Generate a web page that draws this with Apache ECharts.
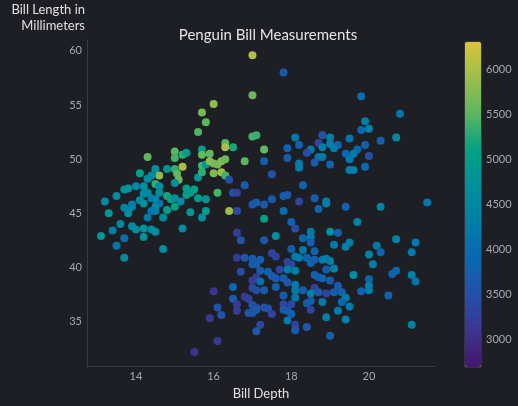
<!DOCTYPE html>
<html>
<head>
<meta charset="utf-8">
<script src="https://cdn.jsdelivr.net/npm/echarts@6/dist/echarts.min.js"></script>
<style>
  html, body { margin: 0; padding: 0; background: #1e1f24; }
  #chart { width: 518px; height: 406px; }
</style>
</head>
<body>
<div id="chart"></div>
<script>
// bill depth (mm), bill length (mm), body mass (g)
const billDepth = [
  17.0, 17.0, 16.0, 15.7, 15.8, 15.6, 17.0, 17.1, 16.3, 16.3, 16.5, 15.7, 17.3,
  14.3, 15.0, 15.0, 14.8, 14.5, 14.1, 14.6, 15.0, 15.06, 15.1, 14.4, 14.3, 14.5, 14.6,
  14.2, 14.0, 13.8, 13.7, 15.0, 14.6, 14.2, 14.3, 13.5, 13.2, 14.1, 14.2, 14.4, 14.5,
  14.8, 14.9, 15.0, 14.6, 13.9, 13.9, 13.7, 13.8, 14.5, 14.5, 14.4, 14.8, 15.0, 13.8,
  13.3, 14.3, 14.7, 13.6, 13.9, 14.0, 14.2, 14.4, 14.5, 13.4, 13.1, 14.2, 13.7, 13.5,
  14.7, 13.7,
  15.2, 15.3, 15.2, 15.7, 15.9, 15.7, 15.8, 15.9, 16.0, 16.1, 16.2, 16.3, 16.0, 16.2,
  16.3, 15.6, 15.7, 16.4, 16.8, 17.3, 16.8, 16.5, 16.6, 16.1, 15.3, 15.3, 15.4, 15.5,
  15.6, 15.8, 15.15, 15.8, 15.4, 16.4, 16.6, 15.7, 15.2, 17.3, 17.0, 17.1, 17.3, 16.6,
  16.7, 17.3,
  17.8, 19.8, 18.1, 18.8, 19.0, 19.5, 18.2, 18.7, 19.0, 19.2, 17.9, 18.5, 18.8, 19.1,
  19.7, 20.8, 19.9, 20.0, 19.8, 20.7, 20.3, 19.9,
  18.4, 18.7, 18.8, 19.4, 19.6, 17.9, 18.2, 18.2, 18.6, 19.0, 19.5, 19.5, 19.6, 17.5,
  18.3, 17.8, 17.9, 17.5, 18.2, 18.6, 18.9, 18.9, 18.7, 19.4, 17.8, 19.7, 18.0, 18.1,
  17.6, 18.5, 18.5, 19.0, 19.2, 18.3, 18.5, 19.1, 19.4, 19.5, 18.0, 18.3, 18.6, 17.5,
  20.0, 19.9, 20.3, 21.5, 20.7, 21.2, 20.2, 21.1, 20.3, 20.0,
  16.6, 16.8, 17.0, 17.2, 17.0, 17.1, 16.7, 17.2, 17.4, 17.0, 17.1, 17.2, 16.5, 16.0,
  17.0, 17.1, 17.3, 16.8, 16.9, 16.5, 16.6, 17.0, 17.1, 17.3, 17.4, 16.1, 16.6, 16.9,
  17.0, 17.1, 16.2, 15.9, 17.2, 17.1, 16.1, 15.5,
  17.6, 18.1, 18.2, 18.4, 18.5, 18.6, 18.8, 18.9, 19.0, 17.9, 18.0, 17.9, 18.1, 17.7,
  17.5, 17.6, 17.8, 17.9, 18.6, 18.7, 18.8, 18.9, 19.1, 19.6, 19.0, 17.6, 18.1, 18.1,
  18.3, 18.6, 18.7, 18.5, 18.9, 19.1, 19.2, 19.3, 19.4, 17.8, 18.1, 18.4, 18.5, 18.8,
  19.3, 17.8, 18.0, 19.5, 17.8, 17.9, 18.0, 18.5, 17.5, 19.2, 18.9, 19.4, 17.9, 18.1,
  18.4, 18.1, 19.0,
  20.1, 20.6, 20.7, 21.1, 21.2, 20.0, 20.0, 20.0, 19.8, 20.5, 21.1
];
const billLength = [
  59.6, 55.9, 55.1, 54.3, 53.4, 52.5, 52.1, 52.2, 51.5, 51.1, 51.1, 50.9, 50.9,
  50.2, 50.7, 50.1, 49.1, 49.1, 48.7, 48.5, 49.1, 48.65, 48.1, 48.5, 48.2, 47.7, 47.5,
  47.5, 47.5, 47.3, 47.2, 47.8, 46.9, 46.8, 46.9, 46.6, 46.1, 46.2, 45.9, 46.4, 46.3,
  46.6, 46.3, 46.4, 45.9, 45.8, 45.6, 45.5, 45.3, 45.6, 45.2, 45.2, 45.3, 45.6, 45.0,
  45.0, 44.6, 44.6, 44.0, 43.8, 43.5, 43.6, 43.5, 43.3, 43.4, 42.9, 42.8, 42.7, 42.0,
  41.7, 40.9,
  50.4, 50.6, 49.3, 50.4, 50.5, 49.4, 49.5, 49.8, 49.6, 49.5, 49.8, 50.0, 48.7, 48.8,
  48.5, 48.3, 48.8, 48.1, 49.8, 49.8, 47.6, 46.9, 46.9, 46.9, 47.3, 46.7, 46.9, 47.2,
  46.4, 46.3, 46.1, 45.2, 45.1, 45.2, 45.2, 44.6, 43.6, 44.5, 45.8, 46.0, 45.8, 43.2,
  42.5, 42.5,
  58.0, 55.8, 52.0, 52.2, 52.0, 51.9, 51.3, 51.5, 51.4, 51.3, 51.0, 50.9, 51.1, 51.0,
  50.9, 54.2, 53.5, 52.8, 52.7, 52.0, 51.7, 51.3,
  50.6, 50.2, 50.2, 50.5, 50.5, 50.1, 49.6, 49.2, 49.7, 49.5, 50.0, 49.0, 49.0, 48.6,
  47.6, 46.6, 46.7, 46.3, 46.1, 46.4, 46.1, 45.9, 45.4, 45.6, 45.2, 44.2, 44.2, 43.6,
  42.9, 43.3, 42.8, 43.3, 43.2, 42.7, 42.3, 42.1, 41.9, 42.3, 41.7, 41.6, 41.5, 41.3,
  50.3, 49.3, 45.6, 46.0, 42.6, 42.3, 42.0, 41.4, 41.4, 41.2,
  40.9, 40.9, 40.8, 40.7, 40.3, 40.3, 39.6, 39.7, 39.6, 38.8, 39.1, 38.7, 38.2, 37.8,
  38.1, 37.9, 37.9, 37.3, 37.1, 37.1, 36.6, 36.5, 36.3, 36.3, 36.2, 36.3, 36.0, 35.8,
  35.8, 36.1, 35.6, 35.3, 34.7, 34.1, 33.2, 32.2,
  41.0, 41.0, 40.9, 40.9, 40.4, 40.7, 40.7, 40.8, 40.6, 40.5, 40.3, 39.8, 39.7, 39.8,
  39.2, 39.0, 39.0, 38.6, 39.3, 39.1, 39.0, 39.8, 39.9, 39.3, 38.8, 38.2, 38.4, 37.9,
  37.9, 38.1, 37.7, 37.6, 37.6, 37.7, 38.3, 37.7, 37.2, 37.4, 37.2, 36.7, 36.9, 36.8,
  36.8, 36.6, 36.6, 36.4, 36.1, 36.0, 35.7, 36.1, 35.7, 36.0, 35.4, 35.2, 35.1, 34.7,
  34.5, 34.2, 33.7,
  40.3, 39.4, 39.7, 39.3, 38.7, 38.9, 38.3, 37.9, 37.8, 37.4, 34.7
];
const bodyMass = [
  6050, 5600, 5850, 5650, 5500, 5450, 5400, 5350, 5500, 6000, 5200, 4950, 5550,
  5550, 5500, 5400, 4850, 4700, 5100, 5800, 5300, 5500, 5600, 4600, 4600, 5300, 4700,
  4700, 4500, 4800, 4750, 4700, 4650, 4600, 4500, 4600, 4500, 4600, 4750, 4300, 4400,
  5200, 5100, 4650, 4100, 4400, 4300, 4450, 4500, 4600, 4450, 4200, 5000, 5100, 4600,
  4900, 4200, 4600, 4500, 4550, 4600, 4700, 4600, 4650, 4300, 4850, 4700, 4000, 4150,
  4650, 4600,
  5300, 5000, 6000, 5550, 5550, 5400, 4900, 5800, 5700, 5650, 5750, 5600, 5700, 5900,
  5400, 4850, 5300, 3450, 5500, 3800, 3700, 3600, 3250, 5400, 5100, 5050, 5000, 5100,
  4900, 4850, 4600, 5000, 4900, 5900, 3400, 4700, 4600, 5100, 3650, 3700, 3650, 3200,
  3500, 3600,
  3700, 4000, 4200, 3500, 4300, 4100, 3800, 3350, 4300, 3800, 3800, 4250, 4300, 4300,
  3900, 4150, 4300, 4400, 3900, 4550, 3750, 3800,
  3400, 4100, 4200, 3900, 4250, 3700, 4200, 4300, 3750, 3900, 4200, 4300, 4300, 3500,
  3800, 3700, 3650, 3700, 3300, 3750, 4350, 4300, 3800, 3800, 4000, 4400, 3800, 3400,
  4650, 4250, 4300, 4700, 3800, 3900, 3750, 4200, 4400, 4300, 3700, 4200, 3800, 3300,
  3450, 4000, 4400, 4150, 4400, 4200, 4200, 4250, 3850, 4450,
  3200, 3600, 3700, 3800, 3700, 3650, 3450, 3700, 3800, 3200, 3200, 4100, 3900, 3100,
  3400, 3450, 3700, 3200, 3250, 3700, 3150, 3600, 3300, 3500, 3500, 3550, 3200, 3600,
  3550, 3700, 3500, 3150, 3350, 3600, 3150, 3050,
  3250, 4250, 4300, 3800, 3900, 3700, 4200, 4300, 4300, 3300, 3350, 4300, 4350, 3300,
  3700, 3650, 3700, 3600, 3800, 3750, 3900, 3700, 4400, 4650, 3700, 3750, 4200, 4250,
  3700, 3300, 3650, 4400, 3300, 3750, 3700, 3800, 4300, 3700, 4200, 3700, 3750, 4200,
  3900, 3300, 3350, 4300, 3650, 3700, 3800, 3300, 3300, 4200, 4300, 4300, 4200, 3250,
  3600, 3700, 3750,
  4300, 3800, 3900, 4350, 4150, 3900, 4350, 4300, 3800, 3800, 4400
];
const xTicks = [14, 16, 18, 20];
const yTicks = [35, 40, 45, 50, 55, 60];
const massTicks = [3000, 3500, 4000, 4500, 5000, 5500, 6000];

const points = billDepth.map((d, i) => [d, billLength[i], bodyMass[i]]);

const chart = echarts.init(document.getElementById('chart'));
const font = 'Lato, "Noto Sans", sans-serif';

chart.setOption({
  backgroundColor: '#1e1f24',
  animation: false,
  textStyle: { fontFamily: font },
  title: {
    text: 'Penguin Bill Measurements',
    left: 263, top: 23, textAlign: 'center',
    textStyle: { color: '#e4e4e8', fontSize: 15, fontWeight: 'normal', fontFamily: font }
  },
  grid: [
    { left: 87, right: 83, top: 40, bottom: 40 },
    { left: 465, width: 16, top: 42, height: 325, show: true, borderColor: '#4a4b52', borderWidth: 1 }
  ],
  xAxis: [
    {
      type: 'value', gridIndex: 0, min: 12.74, max: 21.7,
      name: 'Bill Depth', nameLocation: 'middle', nameGap: 19,
      nameTextStyle: { color: '#e0e0e4', fontSize: 13, verticalAlign: 'top' },
      splitLine: { show: false },
      axisLine: { show: true, lineStyle: { color: '#3a3b42' } },
      axisTick: { show: false },
      axisLabel: { color: '#a8a9b0', fontSize: 11, margin: 5, customValues: xTicks }
    },
    { type: 'value', gridIndex: 1, show: false, min: 0, max: 1 }
  ],
  yAxis: [
    {
      type: 'value', gridIndex: 0, min: 30.9, max: 61,
      name: 'Bill Length in\nMillimeters', nameLocation: 'end', nameGap: 6,
      nameTextStyle: { color: '#e0e0e4', fontSize: 13, align: 'right', verticalAlign: 'bottom', lineHeight: 16, padding: [0, 2, 0, 0] },
      splitLine: { show: false },
      axisLine: { show: true, lineStyle: { color: '#3a3b42' } },
      axisTick: { show: false },
      axisLabel: { color: '#a8a9b0', fontSize: 11, margin: 5, customValues: yTicks }
    },
    {
      type: 'value', gridIndex: 1, position: 'right', min: 2700, max: 6300,
      splitLine: { show: false },
      axisLine: { show: false },
      axisTick: { show: false },
      axisLabel: {
        color: '#a8a9b0', fontSize: 11, margin: 5, customValues: massTicks,
        formatter: v => String(v)
      }
    }
  ],
  visualMap: {
    type: 'continuous', min: 2700, max: 6300, dimension: 2, seriesIndex: 0,
    left: 465, top: 42, itemWidth: 16, itemHeight: 325, padding: 0,
    calculable: false, showLabel: false, text: null,
    textStyle: { color: 'transparent' },
    inRange: {
      color: ['#46156e', '#3d3492', '#2351a8', '#0b66b0', '#007ea8', '#008f9c',
              '#00a184', '#5bb660', '#9cbd4c', '#d9c43a']
    }
  },
  series: [{
    type: 'scatter',
    xAxisIndex: 0, yAxisIndex: 0,
    symbolSize: 8,
    itemStyle: { opacity: 1 },
    data: points
  }]
});
</script>
</body>
</html>
